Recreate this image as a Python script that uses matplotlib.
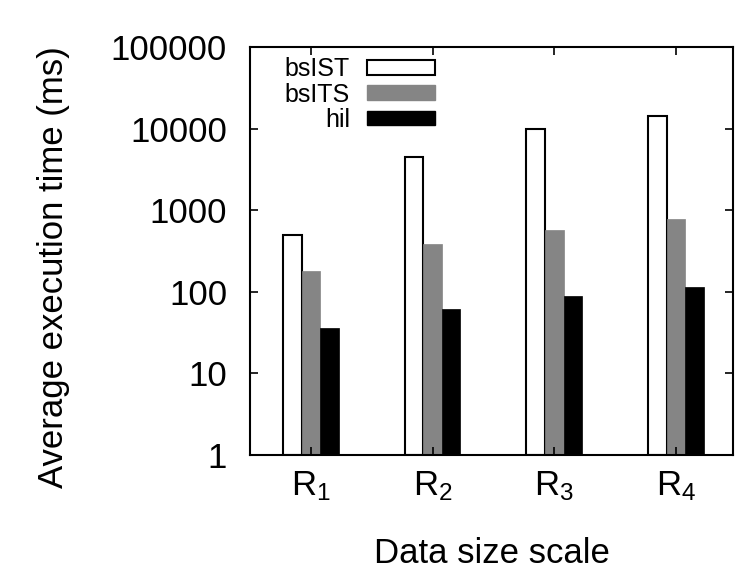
import numpy as np
import matplotlib
matplotlib.use("Agg")
import matplotlib.pyplot as plt
from matplotlib.patches import Patch

plt.rcParams['font.family'] = ['Liberation Sans', 'DejaVu Sans']
plt.rcParams['mathtext.fontset'] = 'custom'
plt.rcParams['mathtext.rm'] = 'Liberation Sans'
plt.rcParams['mathtext.it'] = 'Liberation Sans'

# data (log scale)
groups = ["R$_1$", "R$_2$", "R$_3$", "R$_4$"]
series = ["bsIST", "bsITS", "hil"]
bsIST = [500, 4500, 10000, 14300]
bsITS = [180, 390, 580, 790]
hil = [35, 61, 89, 115]

FS = 25

fig = plt.figure(figsize=(7.36, 5.68), dpi=100)
ax = fig.add_axes([0.3397, 0.199, 0.6563, 0.718])

x = np.arange(len(groups))
w = 0.153
ax.bar(x - w, bsIST, w, bottom=1, color="white", edgecolor="black", linewidth=1.5, label=series[0])
ax.bar(x, bsITS, w, bottom=1, color="#858585", edgecolor="#858585", linewidth=0.5, label=series[1])
ax.bar(x + w, hil, w, bottom=1, color="black", edgecolor="black", linewidth=0.5, label=series[2])

ax.set_yscale("log")
ax.set_ylim(1, 100000)
ax.set_xlim(-0.5, 3.47)
ax.set_yticks([1, 10, 100, 1000, 10000, 100000])
ax.set_yticklabels(["1", "10", "100", "1000", "10000", "100000"])
ax.set_xticks(x)
ax.set_xticklabels(groups)

for s in ax.spines.values():
    s.set_linewidth(1.5)

ax.tick_params(axis="y", which="major", direction="in", length=6, width=1.2,
               right=True, labelsize=FS, pad=16.5)
ax.tick_params(axis="y", which="minor", direction="in", length=3, width=1,
               right=True)
ax.tick_params(axis="x", which="major", direction="in", length=6, width=1.2,
               top=True, labelsize=FS, pad=10)

ax.set_xlabel("Data size scale", fontsize=FS)
ax.xaxis.set_label_coords(0.5, -0.2)
ax.set_ylabel("Average execution time (ms)", fontsize=FS)
ax.yaxis.set_label_coords(-0.373, 0.46)

handles = [Patch(facecolor="white", edgecolor="black", linewidth=1.5),
           Patch(facecolor="#858585", edgecolor="#858585"),
           Patch(facecolor="black", edgecolor="black")]
leg = ax.legend(handles, series, loc="upper right", bbox_to_anchor=(0.383, 0.975),
                markerfirst=False, frameon=False, fontsize=18,
                handlelength=2.72, handleheight=0.52, handletextpad=0.68,
                labelspacing=0.05, borderpad=0, borderaxespad=0)

fig.savefig("out.png", dpi=100)
